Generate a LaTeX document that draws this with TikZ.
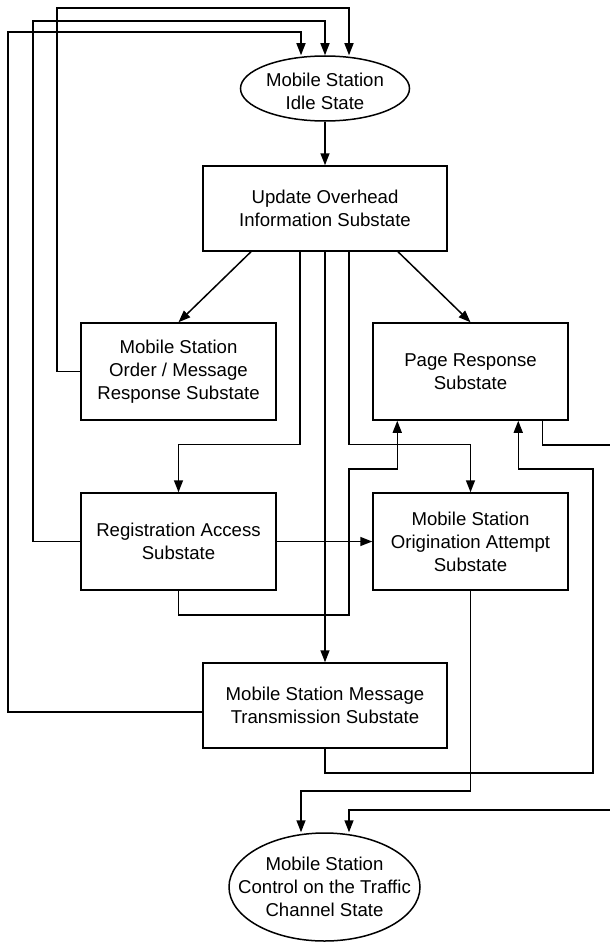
\documentclass[tikz,border=0pt]{standalone}
\usepackage{fontspec}
\setmainfont{Liberation Sans}
\usetikzlibrary{arrows.meta,shapes.geometric}
\definecolor{cdmaInk}{HTML}{000000}
\tikzset{
  every picture/.style={font=\fontsize{18.6}{23}\selectfont, text=cdmaInk},
  cdma box/.style={draw=cdmaInk, line width=1.5pt, align=center, inner sep=0pt},
  cdma wide/.style={cdma box, minimum width=244pt, minimum height=85pt},
  cdma sub/.style={cdma box, minimum width=195pt, minimum height=97pt},
  cdma state/.style={draw=cdmaInk, line width=1.5pt, ellipse, inner sep=0pt},
  cdma text/.style={align=center, inner sep=0pt},
  cdma flow/.style={-{Triangle[length=12pt,width=9pt]},
    draw=cdmaInk, line width=1.5pt},
  cdma wire/.style={draw=cdmaInk, line width=1.5pt}
}

\begin{document}
\begin{tikzpicture}[x=1pt,y=-1pt]
  \useasboundingbox (0,0) rectangle (610,942);
  \node[cdma state, minimum width=169pt, minimum height=65pt] (idle) at (325,88.5) {};
  \node[cdma text] (idletext) at (325,91) {Mobile Station\\Idle State};
  \node[cdma wide] (upd) at (325,208.5) {Update Overhead\\Information Substate};
  \node[cdma sub] (ord) at (178.5,371.5) {Mobile Station\\Order / Message\\Response Substate};
  \node[cdma sub] (page) at (470.5,371.5) {Page Response\\Substate};
  \node[cdma sub] (reg) at (178.5,541.5) {Registration Access\\Substate};
  \node[cdma sub] (orig) at (470.5,541.5) {Mobile Station\\Origination Attempt\\Substate};
  \node[cdma wide] (msg) at (325,705.5) {Mobile Station Message\\Transmission Substate};
  \node[cdma state, minimum width=191pt, minimum height=108pt] (ctrl) at (324.5,887) {};
  \node[cdma text] (ctrltext) at (ctrl) {Mobile Station\\Control on the Traffic\\Channel State};
  \coordinate (edgeA) at (610,445);
  \coordinate (edgeB) at (610,810);

  \draw[cdma flow] (idle) -- (upd);
  \draw[cdma flow] ([xshift=-74pt]upd.south) -- (ord.north);
  \draw[cdma flow] ([xshift=73pt]upd.south) -- (page.north);
  \draw[cdma flow] ([xshift=-25pt]upd.south) |- ([yshift=48pt]reg.north) -- (reg.north);
  \draw[cdma flow] (upd.south) -- (msg.north);
  \draw[cdma flow] ([xshift=24pt]upd.south) |- ([yshift=48pt]orig.north) -- (orig.north);
  \draw[cdma flow] (reg) -- (orig);
  \draw[cdma flow] (reg.south) -- ++(0,24) -| (349,469) -| ([xshift=25pt]page.south west);
  \draw[cdma flow] (msg.south) |- (593,773) -- (593,469) -| ([xshift=146pt]page.south west);
  \draw[cdma flow] (orig.south) |- (301,791) -- ([xshift=-23.5pt]ctrl.north);
  \draw[cdma wire] ([xshift=170pt]page.south west) |- (edgeA);
  \draw[cdma flow] (edgeB) -| ([xshift=24.5pt]ctrl.north);
  \draw[cdma flow] (ord.west) -| (57,8) -| ([xshift=24pt]idle.north);
  \draw[cdma flow] (reg.west) -| (33,21) -| (idle.north);
  \draw[cdma flow] ([yshift=-6.5pt]msg.west) -| (8,32) -| ([xshift=-24pt]idle.north);
\end{tikzpicture}
\end{document}
